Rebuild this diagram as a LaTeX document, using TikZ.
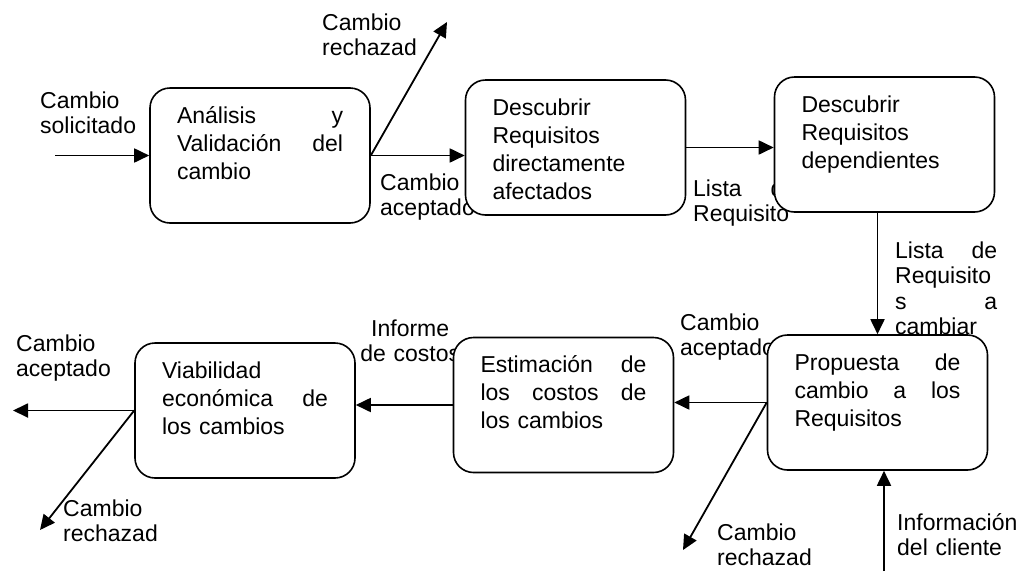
\documentclass[tikz,border=0pt]{standalone}
\usepackage{fontspec}
\setmainfont{Liberation Sans}
\usetikzlibrary{arrows.meta}
\tikzstyle{proceso} = [rectangle, rounded corners=20pt, draw=black, line width=1.6pt, fill=white, text width=166pt, inner xsep=27pt, inner ysep=0pt, text height=35pt, text depth=100pt, align=left, font=\fontsize{23}{28}\selectfont]
\tikzstyle{etiqueta} = [anchor=base west, inner sep=0pt, text width=110pt, align=left, font=\fontsize{23}{25.5}\selectfont]
\tikzstyle{arrow} = [line width=1.8pt, -{Triangle[length=15pt,width=14pt]}]

\begin{document}
\begin{tikzpicture}[x=1pt, y=-1pt]
\useasboundingbox (0,0) rectangle (1029,571);
% labels first, boxes are drawn over them
\node (rechA) [etiqueta] at (322,30) {Cambio\\rechazad};
\node (solicitado) [etiqueta] at (40,108) {Cambio\\solicitado};
\node (aceptA) [etiqueta] at (380,190) {Cambio\\aceptado};
\node (listaA) [etiqueta, text width=103pt] at (693,196) {Lista\hfill de\\Requisito};
\node (listaB) [etiqueta, text width=102pt] at (895,258) {Lista\hfill de\\Requisito\\s\hfill a\\cambiar};
\node (aceptB) [etiqueta] at (680,330) {Cambio\\aceptado};
\node (informe) [etiqueta, align=center] at (355,336) {Informe\\de costos};
\node (aceptC) [etiqueta] at (16,351) {Cambio\\aceptado};
\node (rechB) [etiqueta] at (63,516) {Cambio\\rechazad};
\node (rechC) [etiqueta] at (717,540) {Cambio\\rechazad};
\node (info) [etiqueta, text width=130pt] at (897,530) {Información\\del cliente};

% process boxes
\node (analisis) [proceso] at (260,155.5) {Análisis\hfill y\\Validación\hfill del\\cambio};
\node (directos) [proceso] at (575.5,147.5) {Descubrir\\Requisitos\\directamente\\afectados};
\node (dependientes) [proceso] at (884.5,144.5) {Descubrir\\Requisitos\\dependientes};
\node (propuesta) [proceso] at (877.5,402.5) {Propuesta\hfill de\\cambio\hfill a\hfill los\\Requisitos};
\node (estimacion) [proceso] at (563.5,405) {Estimación\hfill de\\los\hfill costos\hfill de\\los cambios};
\node (viabilidad) [proceso] at (245,410.5) {Viabilidad\\económica\hfill de\\los cambios};

% loose ends
\coordinate (entrada) at (55,155.5);
\coordinate (finRechA) at (447,22);
\coordinate (cliente) at (884,571);
\coordinate (finRechC) at (683,550);
\coordinate (salida) at (13,405);
\coordinate (finRechB) at (40,530);

\draw [arrow] (entrada) -- (analisis.west);
\draw [arrow] (analisis.east) -- (analisis.east -| directos.west);
\draw [arrow] (analisis.east) -- (finRechA);
\draw [arrow] (directos.east) -- (directos.east -| dependientes.west);
\draw [arrow] (propuesta.north |- dependientes.south) -- (propuesta.north);
\draw [arrow] (cliente) -- (cliente |- propuesta.south);
\draw [arrow] (propuesta.west) -- (propuesta.west -| estimacion.east);
\draw [arrow] (propuesta.west) -- (finRechC);
\draw [arrow] (estimacion.west) -- (estimacion.west -| viabilidad.east);
\draw [arrow] (viabilidad.west) -- (viabilidad.west -| salida);
\draw [arrow] (viabilidad.west) -- (finRechB);
\end{tikzpicture}
\end{document}
